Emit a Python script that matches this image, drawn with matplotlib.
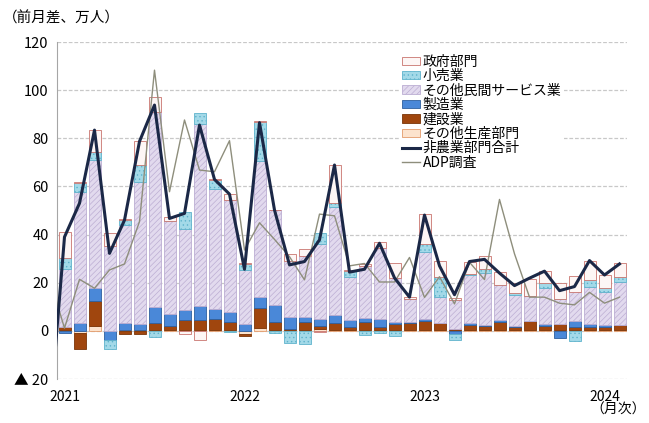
import matplotlib
matplotlib.use('Agg')
import matplotlib.pyplot as plt
import numpy as np
from matplotlib.patches import Patch
from matplotlib.lines import Line2D

plt.rcParams['font.family'] = ['Noto Sans CJK JP', 'DejaVu Sans']
plt.rcParams['hatch.linewidth'] = 0.5

# monthly change, 10k persons; Jan 2021 .. Feb 2024
year_labels = ['2021', '2022', '2023', '2024']
year_index = [0, 12, 24, 36]

other_prod = [0.5, -0.8, 2.0, 0.0, 0.3, 0.5, 0.4, 0.5, 0.3, 0.5, 0.5, 0.5,
              -1.3, 1.1, 0.3, 0.2, 0.3, 0.6, 0.5, 0.3, 0.4, 0.4, 0.4, 0.4,
              0.4, 0.4, 0.3, 0.4, 0.4, 0.4, 0.3, 0.4, 0.3, 0.3, 0.3, 0.3,
              0.3, 0.3]
construction = [1.0, -6.8, 10.3, 0.0, -1.2, -1.3, 2.8, 1.6, 4.1, 4.1, 4.6, 3.3,
                -1.0, 8.3, 3.3, 0.5, 3.4, 1.5, 2.9, 1.5, 3.1, 1.4, 2.5, 2.8,
                3.5, 2.8, 0.5, 2.1, 1.7, 3.1, 1.5, 3.5, 1.8, 2.5, 1.5, 1.5,
                1.5, 2.0]
manufacturing = [-1.0, 3.2, 5.6, -3.7, 3.1, 2.4, 6.9, 5.0, 4.2, 5.8, 4.1, 4.1,
                 2.9, 4.8, 7.0, 4.9, 2.1, 2.8, 3.2, 2.8, 1.8, 3.2, 0.7, 0.3,
                 0.9, 0.0, -1.2, 0.7, 0.5, 1.1, 0.2, 0.3, 0.8, -3.0, 2.5, 1.0,
                 0.7, 0.2]
services = [24.0, 54.6, 53.2, 35.3, 40.7, 59.1, 80.9, 38.7, 33.6, 75.5, 49.8, 46.6,
            22.4, 56.5, 39.4, 23.6, 25.5, 31.1, 44.9, 17.7, 21.8, 29.3, 18.3, 9.8,
            27.9, 11.0, 12.0, 20.0, 21.3, 14.5, 12.8, 10.3, 14.8, 10.3, 12.0, 15.6,
            13.8, 17.9]
retail = [4.6, 3.7, 3.2, -3.9, 2.0, 6.9, -2.4, 0.0, 7.2, 4.4, 3.5, -0.6,
          2.5, 16.2, -1.0, -5.1, -5.5, 4.5, 1.7, 2.7, -1.7, -1.0, -2.0, 0.0,
          3.4, 8.3, -2.5, 0.3, 2.0, 0.0, 1.0, 0.0, 2.1, 0.0, -4.4, 2.8,
          1.4, 2.1]
government = [11.0, 0.3, 9.0, 5.2, 0.4, 9.9, 6.0, 1.6, -1.5, -3.7, 0.7, 2.4,
              0.3, 0.3, 0.4, 2.7, 2.7, -0.5, 15.6, 0.3, 0.7, 2.8, 6.2, 0.9,
              12.3, 6.5, 1.0, 4.9, 5.0, 5.5, 4.2, 7.0, 5.0, 6.9, 6.6, 8.0,
              5.5, 5.6]

# lines start from Dec 2020 (index -1), clipped by the axis
nonfarm = [-37, 39.0, 53.0, 83.4, 32.2, 46.0, 78.7, 93.8, 46.7, 48.8, 85.5, 62.9, 56.8,
           25.6, 86.5, 50.2, 27.4, 28.8, 37.8, 68.9, 24.4, 25.6, 36.4, 22.0, 14.0,
           48.1, 27.0, 15.0, 28.8, 29.7, 24.0, 18.8, 21.9, 24.8, 16.7, 18.4, 29.2,
           23.2, 27.8]
adp = [22, 1.1, 21.4, 17.7, 25.3, 27.8, 45.4, 108.3, 57.8, 87.6, 66.8, 66.1, 79.0,
       33.6, 44.9, 38.0, 30.8, 21.2, 48.5, 47.8, 27.0, 28.0, 20.3, 20.3, 30.5,
       13.9, 22.5, 11.2, 28.5, 21.3, 54.6, 32.0, 14.0, 14.0, 11.5, 10.8, 16.0,
       11.5, 14.0]

series = [
    ('その他生産部門', other_prod, dict(facecolor='#FCE3CD', edgecolor='#E39A6A')),
    ('建設業', construction, dict(facecolor='#A0460E', edgecolor='#7A3508')),
    ('製造業', manufacturing, dict(facecolor='#4A88D8', edgecolor='#2E5F9E')),
    ('その他民間サービス業', services, dict(facecolor='#E2DAEE', edgecolor='#BCAED3', hatch='//////')),
    ('小売業', retail, dict(facecolor='#A3D9E8', edgecolor='#5FB3CC', hatch='....')),
    ('政府部門', government, dict(facecolor='#FDF6F5', edgecolor='#C9756F')),
]

n = len(services)
x = np.arange(n)

fig = plt.figure(figsize=(6.49, 4.23), dpi=100)
ax = fig.add_axes([57/649, 1-379/423, 570/649, 337/423])

pos = np.zeros(n)
neg = np.zeros(n)
handles = {}
for name, vals, style in series:
    v = np.array(vals)
    bottom = np.where(v >= 0, pos, neg)
    ax.bar(x, v, 0.8, bottom=bottom, linewidth=0.6, zorder=2, **style)
    pos = pos + np.where(v > 0, v, 0)
    neg = neg + np.where(v < 0, v, 0)
    handles[name] = Patch(linewidth=0.6, **style)

xl = np.arange(-1, n)
ax.plot(xl, adp, color='#8E8E7C', lw=1.0, zorder=3)
ax.plot(xl, nonfarm, color='#1B2847', lw=2.2, zorder=4)

ax.set_xlim(-0.5, n - 0.5)
ax.set_ylim(-20, 120)
ax.set_yticks(range(-20, 121, 20))
ax.set_yticklabels(['▲ 20'] + [str(v) for v in range(0, 121, 20)], fontsize=10.5)
ax.set_xticks(year_index)
ax.set_xticklabels(year_labels, fontsize=10)
ax.tick_params(length=0, pad=6)
ax.tick_params(axis='x', pad=8)
ax.yaxis.grid(True, color='#C8C8C8', linestyle=(0, (3, 1.5)), linewidth=0.9, zorder=0)
ax.set_axisbelow(True)
for s in ['top', 'right', 'bottom']:
    ax.spines[s].set_visible(False)
ax.spines['left'].set_color('#A6A6A6')

leg_order = ['政府部門', '小売業', 'その他民間サービス業', '製造業', '建設業', 'その他生産部門']
leg_handles = [handles[k] for k in leg_order]
leg_handles += [Line2D([], [], color='#1B2847', lw=2.2), Line2D([], [], color='#8E8E7C', lw=1.0)]
leg_labels = leg_order + ['非農業部門合計', 'ADP調査']
leg = ax.legend(leg_handles, leg_labels, loc='upper left',
                bbox_to_anchor=(392/649, 1-45/423), bbox_transform=fig.transFigure,
                fontsize=10, labelspacing=0.03, handlelength=1.3, handleheight=0.55,
                handletextpad=0.2, borderpad=0.2, frameon=True, fancybox=False)
leg.get_frame().set_edgecolor('none')
leg.get_frame().set_facecolor('white')
leg.get_frame().set_alpha(1)

fig.text(3/649, 1-18/423, '（前月差、万人）', fontsize=10.5, va='center', ha='left')
fig.text(646/649, 1-410/423, '（月次）', fontsize=10, va='center', ha='right')

fig.savefig('out.png', dpi=100)
